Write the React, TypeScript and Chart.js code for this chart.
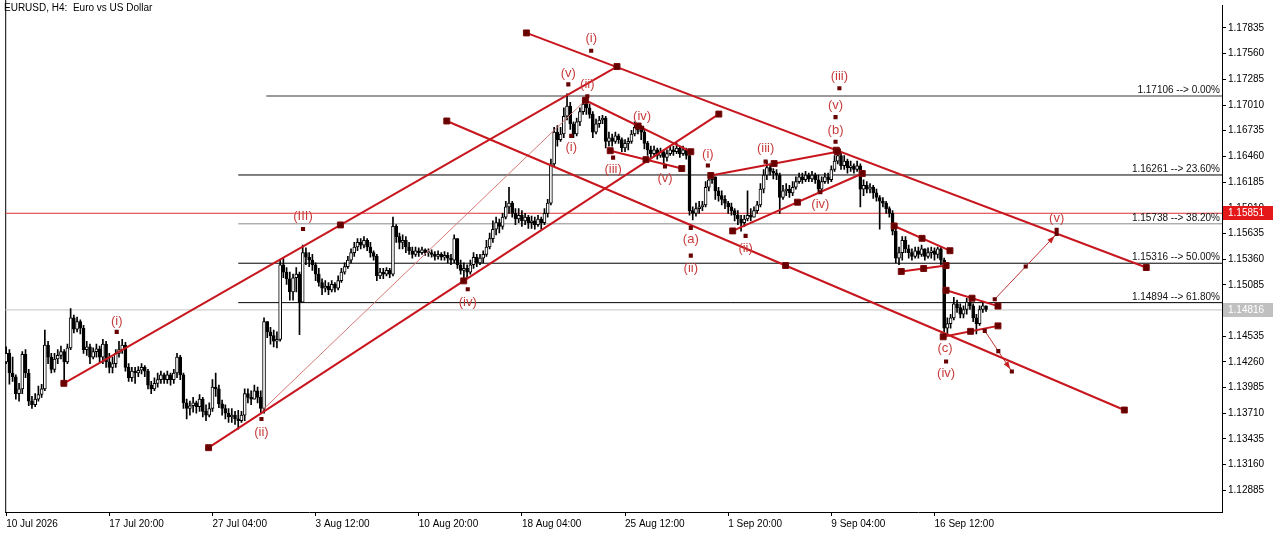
import React, { useEffect, useRef } from 'react';
import { Chart, registerables } from 'chart.js';

Chart.register(...registerables);

// ---------- DATA ----------
const SYMBOL_TITLE = 'EURUSD, H4:  Euro vs US Dollar';
const OPEN_FIRST = 1.1426;

const CLOSES = [
  1.1435,1.1414,1.1410,1.1392,1.1397,1.1434,1.1414,1.1384,1.1380,1.1386,
  1.1391,1.1397,1.1444,1.1431,1.1418,1.1429,1.1433,1.1437,1.1426,1.1441,
  1.1473,1.1461,1.1469,1.1462,1.1439,1.1442,1.1431,1.1437,1.1440,1.1431,
  1.1445,1.1426,1.1420,1.1424,1.1435,1.1439,1.1444,1.1420,1.1409,1.1416,
  1.1414,1.1417,1.1420,1.1416,1.1401,1.1397,1.1403,1.1407,1.1412,1.1407,
  1.1412,1.1407,1.1414,1.1431,1.1412,1.1382,1.1376,1.1379,1.1382,1.1378,
  1.1386,1.1373,1.1369,1.1376,1.1399,1.1397,1.1381,1.1376,1.1371,1.1367,
  1.1369,1.1365,1.1363,1.1369,1.1392,1.1388,1.1386,1.1395,1.1388,1.1376,
  1.1469,1.1458,1.1454,1.1448,1.1450,1.1530,1.1522,1.1515,1.1501,1.1516,
  1.1520,1.1490,1.1543,1.1538,1.1535,1.1530,1.1520,1.1511,1.1505,1.1507,
  1.1503,1.1509,1.1505,1.1513,1.1522,1.1528,1.1535,1.1543,1.1549,1.1554,
  1.1551,1.1556,1.1549,1.1543,1.1539,1.1518,1.1522,1.1520,1.1524,1.1520,
  1.1571,1.1560,1.1554,1.1556,1.1549,1.1545,1.1541,1.1545,1.1543,1.1546,
  1.1543,1.1543,1.1541,1.1539,1.1541,1.1538,1.1540,1.1537,1.1535,1.1558,
  1.1530,1.1524,1.1526,1.1522,1.1530,1.1538,1.1532,1.1537,1.1541,1.1549,
  1.1558,1.1568,1.1575,1.1571,1.1581,1.1592,1.1596,1.1585,1.1579,1.1583,
  1.1577,1.1581,1.1575,1.1577,1.1573,1.1579,1.1575,1.1585,1.1596,1.1638,
  1.1672,1.1664,1.1670,1.1689,1.1700,1.1681,1.1670,1.1683,1.1694,1.1702,
  1.1698,1.1691,1.1672,1.1681,1.1685,1.1687,1.1662,1.1666,1.1662,1.1668,
  1.1664,1.1655,1.1660,1.1662,1.1670,1.1677,1.1674,1.1672,1.1660,1.1653,
  1.1649,1.1653,1.1647,1.1651,1.1645,1.1649,1.1653,1.1651,1.1655,1.1649,
  1.1653,1.1647,1.1588,1.1585,1.1590,1.1592,1.1594,1.1613,1.1621,1.1624,
  1.1609,1.1604,1.1600,1.1596,1.1592,1.1588,1.1583,1.1579,1.1575,1.1579,
  1.1583,1.1581,1.1588,1.1594,1.1611,1.1626,1.1634,1.1630,1.1628,1.1626,
  1.1602,1.1609,1.1611,1.1607,1.1613,1.1619,1.1624,1.1621,1.1626,1.1622,
  1.1626,1.1621,1.1611,1.1619,1.1624,1.1621,1.1632,1.1641,1.1647,1.1636,
  1.1641,1.1634,1.1636,1.1632,1.1636,1.1611,1.1615,1.1611,1.1613,1.1607,
  1.1602,1.1598,1.1596,1.1590,1.1585,1.1566,1.1537,1.1543,1.1556,1.1547,
  1.1543,1.1539,1.1545,1.1541,1.1547,1.1539,1.1543,1.1545,1.1541,1.1547,
  1.1535,1.1462,1.1467,1.1473,1.1488,1.1484,1.1477,1.1482,1.1490,1.1486,
  1.1473,1.1467,1.1482,1.1486,1.1482,
];

const HIGHS = [
  1.1442,1.1439,1.1431,1.1412,1.1403,1.1437,1.1439,1.1418,1.1389,1.1392,
  1.1400,1.1402,1.1460,1.1448,1.1435,1.1435,1.1439,1.1443,1.1439,1.1445,
  1.1483,1.1476,1.1474,1.1471,1.1465,1.1448,1.1445,1.1441,1.1445,1.1443,
  1.1450,1.1448,1.1435,1.1431,1.1439,1.1448,1.1450,1.1447,1.1424,1.1420,
  1.1420,1.1421,1.1424,1.1422,1.1418,1.1405,1.1409,1.1414,1.1416,1.1414,
  1.1416,1.1414,1.1418,1.1435,1.1433,1.1414,1.1386,1.1384,1.1388,1.1384,
  1.1391,1.1388,1.1380,1.1382,1.1407,1.1414,1.1401,1.1385,1.1380,1.1376,
  1.1376,1.1373,1.1374,1.1373,1.1397,1.1397,1.1395,1.1401,1.1399,1.1395,
  1.1473,1.1467,1.1463,1.1460,1.1458,1.1535,1.1537,1.1527,1.1522,1.1520,
  1.1527,1.1522,1.1551,1.1548,1.1543,1.1541,1.1532,1.1526,1.1515,1.1513,
  1.1511,1.1513,1.1511,1.1518,1.1526,1.1532,1.1539,1.1547,1.1554,1.1558,
  1.1558,1.1560,1.1558,1.1554,1.1545,1.1541,1.1526,1.1526,1.1527,1.1526,
  1.1581,1.1573,1.1564,1.1562,1.1560,1.1554,1.1549,1.1549,1.1548,1.1549,
  1.1547,1.1547,1.1546,1.1544,1.1545,1.1543,1.1544,1.1543,1.1541,1.1562,
  1.1558,1.1535,1.1532,1.1530,1.1535,1.1543,1.1541,1.1541,1.1545,1.1556,
  1.1564,1.1577,1.1581,1.1579,1.1585,1.1598,1.1613,1.1598,1.1590,1.1590,
  1.1588,1.1585,1.1583,1.1582,1.1581,1.1583,1.1581,1.1590,1.1600,1.1643,
  1.1677,1.1679,1.1677,1.1698,1.1713,1.1704,1.1683,1.1687,1.1698,1.1707,
  1.1707,1.1702,1.1694,1.1686,1.1689,1.1690,1.1689,1.1672,1.1670,1.1672,
  1.1670,1.1666,1.1664,1.1666,1.1674,1.1683,1.1681,1.1679,1.1674,1.1662,
  1.1657,1.1657,1.1655,1.1655,1.1653,1.1653,1.1657,1.1657,1.1660,1.1657,
  1.1657,1.1655,1.1649,1.1592,1.1596,1.1598,1.1598,1.1619,1.1627,1.1628,
  1.1624,1.1613,1.1609,1.1604,1.1598,1.1596,1.1590,1.1588,1.1583,1.1583,
  1.1609,1.1590,1.1592,1.1598,1.1617,1.1632,1.1641,1.1638,1.1633,1.1632,
  1.1628,1.1615,1.1617,1.1615,1.1619,1.1624,1.1628,1.1628,1.1630,1.1628,
  1.1630,1.1628,1.1626,1.1624,1.1628,1.1628,1.1636,1.1647,1.1653,1.1651,
  1.1647,1.1643,1.1641,1.1638,1.1641,1.1638,1.1621,1.1619,1.1617,1.1615,
  1.1611,1.1604,1.1602,1.1598,1.1592,1.1588,1.1568,1.1549,1.1560,1.1560,
  1.1551,1.1547,1.1549,1.1549,1.1551,1.1547,1.1548,1.1549,1.1548,1.1549,
  1.1549,1.1537,1.1473,1.1477,1.1495,1.1492,1.1488,1.1486,1.1494,1.1494,
  1.1488,1.1477,1.1486,1.1490,1.1486,
];

const LOWS = [
  1.1424,1.1402,1.1405,1.1386,1.1384,1.1392,1.1409,1.1379,1.1376,1.1378,
  1.1384,1.1388,1.1395,1.1424,1.1414,1.1415,1.1424,1.1429,1.1405,1.1424,
  1.1439,1.1457,1.1458,1.1456,1.1435,1.1433,1.1424,1.1429,1.1431,1.1426,
  1.1424,1.1420,1.1414,1.1414,1.1420,1.1431,1.1435,1.1416,1.1405,1.1405,
  1.1403,1.1410,1.1413,1.1410,1.1397,1.1392,1.1395,1.1399,1.1403,1.1403,
  1.1403,1.1401,1.1403,1.1409,1.1407,1.1376,1.1365,1.1369,1.1372,1.1371,
  1.1373,1.1367,1.1363,1.1367,1.1373,1.1389,1.1377,1.1369,1.1365,1.1361,
  1.1361,1.1359,1.1354,1.1361,1.1363,1.1382,1.1380,1.1386,1.1382,1.1371,
  1.1371,1.1452,1.1445,1.1442,1.1441,1.1448,1.1516,1.1509,1.1492,1.1492,
  1.1501,1.1455,1.1490,1.1530,1.1528,1.1524,1.1513,1.1507,1.1498,1.1501,
  1.1498,1.1501,1.1501,1.1503,1.1511,1.1520,1.1526,1.1532,1.1539,1.1545,
  1.1547,1.1548,1.1545,1.1538,1.1535,1.1513,1.1515,1.1515,1.1518,1.1516,
  1.1518,1.1554,1.1547,1.1547,1.1543,1.1541,1.1537,1.1539,1.1539,1.1541,
  1.1540,1.1539,1.1538,1.1535,1.1536,1.1535,1.1535,1.1532,1.1530,1.1532,
  1.1526,1.1520,1.1514,1.1516,1.1520,1.1526,1.1528,1.1530,1.1532,1.1539,
  1.1547,1.1554,1.1562,1.1564,1.1568,1.1579,1.1585,1.1581,1.1573,1.1575,
  1.1571,1.1573,1.1569,1.1569,1.1568,1.1571,1.1568,1.1573,1.1581,1.1594,
  1.1636,1.1657,1.1662,1.1666,1.1685,1.1675,1.1666,1.1668,1.1679,1.1691,
  1.1691,1.1687,1.1666,1.1670,1.1677,1.1681,1.1655,1.1657,1.1657,1.1660,
  1.1660,1.1651,1.1651,1.1653,1.1660,1.1668,1.1670,1.1664,1.1654,1.1647,
  1.1645,1.1646,1.1643,1.1645,1.1638,1.1641,1.1647,1.1647,1.1649,1.1645,
  1.1647,1.1643,1.1583,1.1578,1.1582,1.1585,1.1588,1.1592,1.1609,1.1617,
  1.1600,1.1598,1.1594,1.1590,1.1585,1.1583,1.1577,1.1573,1.1566,1.1571,
  1.1577,1.1577,1.1581,1.1585,1.1592,1.1607,1.1621,1.1626,1.1622,1.1621,
  1.1585,1.1600,1.1604,1.1602,1.1604,1.1611,1.1617,1.1617,1.1619,1.1619,
  1.1619,1.1617,1.1607,1.1609,1.1617,1.1617,1.1619,1.1630,1.1638,1.1632,
  1.1632,1.1628,1.1630,1.1628,1.1630,1.1592,1.1604,1.1607,1.1607,1.1601,
  1.1598,1.1568,1.1592,1.1585,1.1581,1.1562,1.1532,1.1530,1.1535,1.1543,
  1.1537,1.1535,1.1537,1.1537,1.1539,1.1535,1.1537,1.1537,1.1535,1.1537,
  1.1530,1.1458,1.1455,1.1462,1.1471,1.1479,1.1473,1.1473,1.1477,1.1482,
  1.1469,1.1456,1.1465,1.1479,1.1480,
];

const X_TICK_BARS = [0, 32, 64, 96, 128, 160, 192, 224, 256, 288];
const X_TICK_LABELS = [
  '10 Jul 2026', '17 Jul 20:00', '27 Jul 04:00', '3 Aug 12:00', '10 Aug 20:00',
  '18 Aug 04:00', '25 Aug 12:00', '1 Sep 20:00', '9 Sep 04:00', '16 Sep 12:00',
];
const Y_TICK_LABELS = [
  '1.17835', '1.17560', '1.17285', '1.17010', '1.16735', '1.16460', '1.16185',
  '1.15910', '1.15635', '1.15360', '1.15085', '1.14810', '1.14535', '1.14260',
  '1.13985', '1.13710', '1.13435', '1.13160', '1.12885',
];

const BID_PRICE = 1.15851;
const LAST_PRICE = 1.14816;

const FIB_PRICES = [1.17106, 1.16261, 1.15738, 1.15316, 1.14894];
const FIB_LEVELS = ['0.00%', '23.60%', '38.20%', '50.00%', '61.80%'];
const FIB_START_BARS = [80.7, 72, 72, 72, 72];

// trend lines: [bar1, price1, bar2, price2]
const TREND_LINES = [
  [17.9, 1.14030, 189.5, 1.17422],
  [62.8, 1.13341, 221.1, 1.16913],
  [161.4, 1.17782, 353.7, 1.15270],
  [136.7, 1.16839, 346.9, 1.13744],
  [179.7, 1.17061, 212.4, 1.16510],
  [187.4, 1.16521, 209.6, 1.16330],
  [218.6, 1.16256, 257.9, 1.16510],
  [225.4, 1.15662, 265.6, 1.16277],
  [275.5, 1.15715, 292.8, 1.15450],
  [277.7, 1.15228, 291.6, 1.15291],
  [291.6, 1.15026, 307.7, 1.14857],
  [290.7, 1.14528, 307.7, 1.14645],
];
const GUIDE_LINE = [79.2, 1.13733, 179.7, 1.17061];
const PROJECTIONS = [
  [306.7, 1.14931, 325.9, 1.15630],
  [303.6, 1.14592, 312.0, 1.14157],
];

const WAVE_TEXT = ['(i)', '(ii)', '(III)', '(iv)', '(v)', '(i)', '(ii)', '(i)', '(iii)', '(iv)', '(v)', '(i)', '(a)', '(ii)', '(iii)', '(ii)', '(iv)', '(b)', '(v)', '(iii)', '(c)', '(iv)', '(v)'];
const WAVE_BAR = [34.3, 79.2, 92.1, 143.2, 174.4, 175.3, 180.3, 181.5, 188.3, 197.3, 204.4, 217.7, 212.4, 212.4, 235.6, 229.4, 252.6, 257.3, 257.3, 258.5, 291.3, 291.6, 325.9];
const WAVE_TEXT_PRICE = [1.14698, 1.13500, 1.15821, 1.14899, 1.17348, 1.16553, 1.17231, 1.17719, 1.16319, 1.16892, 1.16224, 1.16478, 1.15567, 1.15259, 1.16542, 1.15471, 1.15948, 1.16743, 1.17008, 1.17316, 1.14401, 1.14136, 1.15800];
const WAVE_MARK_PRICE = [1.14581, 1.13648, 1.15683, 1.15037, 1.17231, 1.16680, 1.17104, 1.17591, 1.16447, 1.16765, 1.16351, 1.16362, 1.15694, 1.15397, 1.16404, 1.15609, 1.16076, 1.16616, 1.16881, 1.17189, null, 1.14263, 1.15673];

// ---------- VIEW ----------
const X_MIN = -0.3;
const X_MAX = 377.2;
const Y_MIN = 1.12652;
const Y_MAX = 1.18079;

const FONT = '"Liberation Sans", Arial, sans-serif';
const LINE_RED = '#c8161e';
const TEXT_RED = '#c83c3c';
const ANCHOR = '#660000';
const FIB_COLORS = ['#9a9a9a', '#000000', '#8a8a8a', '#000000', '#000000'];
const FIB_WIDTHS = [2, 1, 1, 1, 1];

function buildConfig(): any {
  const idx = CLOSES.map((_, i) => i);
  const opens = idx.map((i) => (i === 0 ? OPEN_FIRST : CLOSES[i - 1]));
  const wickData = idx.map((i) => ({
    x: i,
    y: [Math.min(LOWS[i], opens[i], CLOSES[i]), Math.max(HIGHS[i], opens[i], CLOSES[i])],
  }));
  const bodyData = idx.map((i) => ({ x: i, y: [opens[i], CLOSES[i]] }));
  const bodyColors = idx.map((i) => (CLOSES[i] >= opens[i] ? '#ffffff' : '#000000'));

  const datasets: any[] = [];

  FIB_PRICES.forEach((p, k) => {
    datasets.push({
      type: 'line',
      data: [{ x: FIB_START_BARS[k], y: p }, { x: X_MAX, y: p }],
      borderColor: FIB_COLORS[k],
      borderWidth: FIB_WIDTHS[k],
      pointRadius: 0,
      order: 40,
    });
  });
  datasets.push({
    type: 'line',
    data: [{ x: X_MIN, y: LAST_PRICE }, { x: X_MAX, y: LAST_PRICE }],
    borderColor: '#c4c4c4',
    borderWidth: 1,
    pointRadius: 0,
    order: 41,
  });
  datasets.push({
    type: 'line',
    data: [{ x: X_MIN, y: BID_PRICE }, { x: X_MAX, y: BID_PRICE }],
    borderColor: '#e03232',
    borderWidth: 1,
    pointRadius: 0,
    order: 39,
  });

  datasets.push({
    type: 'bar',
    data: wickData,
    grouped: false,
    barThickness: 1,
    backgroundColor: '#000000',
    borderWidth: 0,
    order: 30,
  });
  datasets.push({
    type: 'bar',
    data: bodyData,
    grouped: false,
    barThickness: 3,
    backgroundColor: bodyColors,
    borderColor: '#000000',
    borderWidth: 1,
    borderSkipped: false,
    minBarLength: 1,
    order: 29,
  });

  datasets.push({
    type: 'line',
    data: [{ x: GUIDE_LINE[0], y: GUIDE_LINE[1] }, { x: GUIDE_LINE[2], y: GUIDE_LINE[3] }],
    borderColor: '#d67878',
    borderWidth: 1,
    pointRadius: 0,
    order: 12,
  });

  const anchors: any[] = [];
  TREND_LINES.forEach(([b1, p1, b2, p2]) => {
    datasets.push({
      type: 'line',
      data: [{ x: b1, y: p1 }, { x: b2, y: p2 }],
      borderColor: LINE_RED,
      borderWidth: 2,
      pointRadius: 0,
      order: 10,
    });
    anchors.push({ x: b1, y: p1 }, { x: (b1 + b2) / 2, y: (p1 + p2) / 2 }, { x: b2, y: p2 });
  });

  const marks: any[] = [];
  PROJECTIONS.forEach(([b1, p1, b2, p2]) => {
    datasets.push({
      type: 'line',
      data: [{ x: b1, y: p1 }, { x: b2, y: p2 }],
      borderColor: '#c03434',
      borderWidth: 1,
      pointRadius: 0,
      order: 11,
    });
    marks.push({ x: b1, y: p1 }, { x: (b1 + b2) / 2, y: (p1 + p2) / 2 }, { x: b2, y: p2 });
  });
  WAVE_BAR.forEach((b, k) => {
    const mp = WAVE_MARK_PRICE[k];
    if (mp !== null) marks.push({ x: b, y: mp });
  });

  datasets.push({
    type: 'scatter',
    data: anchors,
    pointStyle: 'rect',
    pointRadius: 4.2,
    backgroundColor: ANCHOR,
    borderColor: '#7a0a0a',
    borderWidth: 1,
    order: 3,
  });
  datasets.push({
    type: 'scatter',
    data: marks,
    pointStyle: 'rect',
    pointRadius: 2.9,
    backgroundColor: ANCHOR,
    borderColor: ANCHOR,
    borderWidth: 0,
    order: 2,
  });

  const overlay = {
    id: 'mt4overlay',
    beforeDatasetsDraw(chart: any) {
      const { ctx, chartArea } = chart;
      ctx.save();
      ctx.strokeStyle = '#000';
      ctx.lineWidth = 1;
      ctx.beginPath();
      ctx.moveTo(chartArea.left + 0.5, 0);
      ctx.lineTo(chartArea.left + 0.5, chartArea.bottom);
      ctx.stroke();
      ctx.restore();
    },
    afterDatasetsDraw(chart: any) {
      const { ctx, chartArea } = chart;
      const xs = chart.scales.x;
      const ys = chart.scales.y;
      ctx.save();
      // fibonacci level texts
      ctx.font = `10px ${FONT}`;
      ctx.fillStyle = '#111';
      ctx.textAlign = 'right';
      ctx.textBaseline = 'alphabetic';
      FIB_PRICES.forEach((p, k) => {
        ctx.fillText(`${p.toFixed(5)} --> ${FIB_LEVELS[k]}`, chartArea.right - 2, ys.getPixelForValue(p) - 3);
      });
      // wave labels
      ctx.font = `13px ${FONT}`;
      ctx.fillStyle = TEXT_RED;
      ctx.textAlign = 'center';
      ctx.textBaseline = 'middle';
      WAVE_TEXT.forEach((t, k) => {
        ctx.fillText(t, xs.getPixelForValue(WAVE_BAR[k]), ys.getPixelForValue(WAVE_TEXT_PRICE[k]));
      });
      // arrow heads on projections
      ctx.fillStyle = '#c41e1e';
      PROJECTIONS.forEach(([b1, p1, b2, p2]) => {
        const x1 = xs.getPixelForValue(b1);
        const y1 = ys.getPixelForValue(p1);
        const x2 = xs.getPixelForValue(b2);
        const y2 = ys.getPixelForValue(p2);
        const a = Math.atan2(y2 - y1, x2 - x1);
        const tx = x2 - 3 * Math.cos(a);
        const ty = y2 - 3 * Math.sin(a);
        ctx.beginPath();
        ctx.moveTo(tx, ty);
        ctx.lineTo(tx - 8 * Math.cos(a - 0.35), ty - 8 * Math.sin(a - 0.35));
        ctx.lineTo(tx - 8 * Math.cos(a + 0.35), ty - 8 * Math.sin(a + 0.35));
        ctx.closePath();
        ctx.fill();
      });
      ctx.restore();
    },
    afterDraw(chart: any) {
      const { ctx, chartArea } = chart;
      const ys = chart.scales.y;
      ctx.save();
      const box = (price: number, bg: string) => {
        const cy = Math.round(ys.getPixelForValue(price));
        ctx.fillStyle = bg;
        ctx.fillRect(chartArea.right + 1, cy - 7, 50, 14);
        ctx.fillStyle = '#ffffff';
        ctx.font = `10px ${FONT}`;
        ctx.textAlign = 'left';
        ctx.textBaseline = 'middle';
        ctx.fillText(price.toFixed(5), chartArea.right + 6, cy);
      };
      box(BID_PRICE, '#e41818');
      box(LAST_PRICE, '#c0c0c0');
      ctx.fillStyle = '#000';
      ctx.font = `10px ${FONT}`;
      ctx.textAlign = 'left';
      ctx.textBaseline = 'middle';
      ctx.fillText(SYMBOL_TITLE, 4, 8);
      ctx.restore();
    },
  };

  return {
    type: 'bar',
    data: { datasets },
    plugins: [overlay],
    options: {
      responsive: false,
      maintainAspectRatio: false,
      animation: false,
      devicePixelRatio: 1,
      events: [],
      layout: { padding: { left: 1, right: 0, top: 0, bottom: 0 } },
      plugins: { legend: { display: false }, tooltip: { enabled: false } },
      scales: {
        x: {
          type: 'linear',
          min: X_MIN,
          max: X_MAX,
          offset: false,
          grid: { offset: false, drawOnChartArea: false, drawTicks: true, tickLength: 4, color: '#000' },
          border: { display: true, color: '#000', width: 1 },
          ticks: {
            autoSkip: false,
            maxRotation: 0,
            minRotation: 0,
            align: 'start',
            padding: 2,
            color: '#000',
            font: { family: FONT, size: 10 },
            callback: (v: any) => {
              const k = X_TICK_BARS.indexOf(Number(v));
              return k >= 0 ? X_TICK_LABELS[k] : '';
            },
          },
          afterBuildTicks: (s: any) => {
            s.ticks = X_TICK_BARS.map((v) => ({ value: v }));
          },
          afterFit: (s: any) => {
            s.height = 23;
            s.paddingLeft = 0;
            s.paddingRight = 0;
          },
        },
        y: {
          type: 'linear',
          position: 'right',
          min: Y_MIN,
          max: Y_MAX,
          beginAtZero: false,
          grid: { drawOnChartArea: false, drawTicks: true, tickLength: 4, color: '#000' },
          border: { display: true, color: '#000', width: 1 },
          ticks: {
            padding: 2,
            color: '#000',
            font: { family: FONT, size: 10 },
            callback: (v: any) => Number(v).toFixed(5),
          },
          afterBuildTicks: (s: any) => {
            s.ticks = Y_TICK_LABELS.map((t) => ({ value: parseFloat(t) }));
          },
          afterFit: (s: any) => {
            s.width = 58;
            s.paddingTop = 0;
            s.paddingBottom = 0;
          },
        },
      },
    },
  };
}

export default function App() {
  const ref = useRef<HTMLCanvasElement>(null);
  useEffect(() => {
    const canvas = ref.current;
    if (!canvas) return;
    const chart = new Chart(canvas, buildConfig());
    return () => chart.destroy();
  }, []);
  return (
    <div style={{ position: 'fixed', left: 0, top: 0, width: 1280, height: 535, background: '#ffffff' }}>
      <canvas ref={ref} width={1280} height={535} style={{ display: 'block', width: 1280, height: 535 }} />
    </div>
  );
}
